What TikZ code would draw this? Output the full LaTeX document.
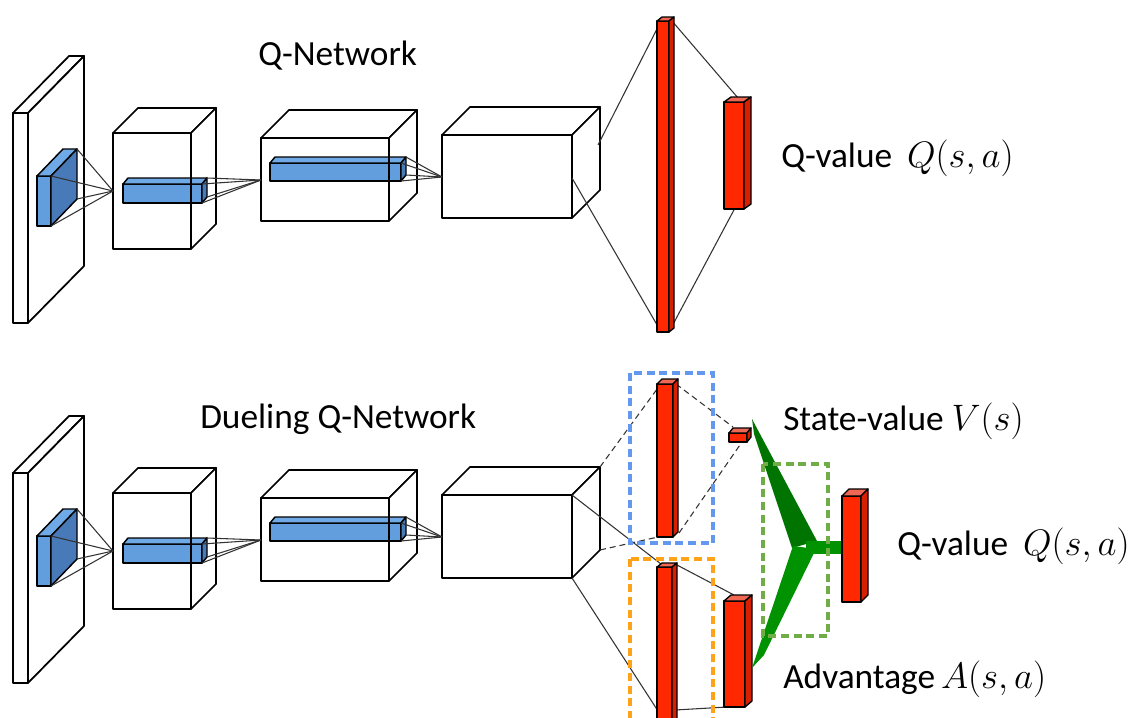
\documentclass[tikz,border=0pt]{standalone}
\usepackage{fontspec}
\setmainfont{Carlito}

\definecolor{qblue}{RGB}{98,157,222}
\definecolor{qbluetop}{RGB}{112,170,230}
\definecolor{qblueside}{RGB}{72,122,186}
\definecolor{qred}{RGB}{255,40,0}
\definecolor{qredtop}{RGB}{240,104,84}
\definecolor{qredside}{RGB}{214,32,0}
\definecolor{ydark}{RGB}{0,116,0}
\definecolor{ylight}{RGB}{0,146,0}
\definecolor{boxblue}{RGB}{100,152,238}
\definecolor{boxorange}{RGB}{255,162,24}
\definecolor{boxgreen}{RGB}{112,173,71}

\tikzset{
  edge/.style={draw=black, line width=1.3pt, line join=round},
  link/.style={draw=black!80, line width=0.8pt},
  dlink/.style={link, dash pattern=on 4.5pt off 3pt},
  plain front/.style={fill=white},
  plain top/.style={fill=white},
  plain side/.style={fill=white},
  blue front/.style={fill=qblue, line width=1.1pt},
  blue top/.style={fill=qbluetop, line width=1.1pt},
  blue side/.style={fill=qblueside, line width=1.1pt},
  red front/.style={fill=qred, line width=1pt},
  red top/.style={fill=qredtop, line width=1pt},
  red side/.style={fill=qredside, line width=1pt},
  groupbox/.style={line width=2.3pt, dash pattern=on 6pt off 3.5pt},
  label/.style={anchor=base west, inner sep=0pt, font=\fontsize{26.5}{31}\selectfont},
}

% math: largest fixed size of the math fonts, scaled up a little
\newcommand\mth[1]{{\fontsize{24.88}{30}\selectfont\scalebox{1.11}{$#1$}}}

% cuboid: name, x, y, width, height, depth dx, depth dy (upwards), kind
\newcommand\cuboid[8]{%
  \coordinate (#1-ftl) at (#2,#3);
  \coordinate (#1-ftr) at ({#2+#4},#3);
  \coordinate (#1-fbl) at (#2,{#3+#5});
  \coordinate (#1-fbr) at ({#2+#4},{#3+#5});
  \coordinate (#1-btl) at ({#2+#6},{#3-#7});
  \coordinate (#1-btr) at ({#2+#4+#6},{#3-#7});
  \coordinate (#1-bbr) at ({#2+#4+#6},{#3+#5-#7});
  \path[edge,#8 front] (#1-ftl) rectangle (#1-fbr);
  \path[edge,#8 top] (#1-ftl) -- (#1-btl) -- (#1-btr) -- (#1-ftr) -- cycle;
  \path[edge,#8 side] (#1-ftr) -- (#1-btr) -- (#1-bbr) -- (#1-fbr) -- cycle;
}

% convolutional trunk shared by both networks
\newcommand\trunk[1]{%
  \cuboid{#1in}{13}{113}{15}{210}{56}{57}{plain}
  \cuboid{#1k1}{37}{176}{14}{50}{26}{27}{blue}
  \cuboid{#1c2}{113}{133}{78}{116}{25}{25}{plain}
  \coordinate (#1a2) at (113,191);
  \foreach \p in {ftr,fbr,btr,bbr} {\draw[link] (#1k1-\p) -- (#1a2);}
  \cuboid{#1k2}{123}{184}{79}{19}{5}{6}{blue}
  \draw[edge] (#1c2-ftr) -- (#1c2-fbr);
  \cuboid{#1c3}{261}{138}{128}{83}{28}{28}{plain}
  \coordinate (#1a3) at (261,180);
  \foreach \p in {ftr,fbr,btr,bbr} {\draw[link] (#1k2-\p) -- (#1a3);}
  \cuboid{#1k3}{270}{163}{131}{18}{5}{6}{blue}
  \draw[edge] (#1c3-ftr) -- (#1c3-fbr);
  \cuboid{#1c4}{442}{135}{130}{83}{28}{28}{plain}
  \coordinate (#1a4) at (442,177);
  \foreach \p in {ftr,fbr,btr,bbr} {\draw[link] (#1k3-\p) -- (#1a4);}
}

\begin{document}
\begin{tikzpicture}[x=0.75pt,y=-0.75pt]
\useasboundingbox (0,0) rectangle (1133,718);
\clip (0,0) rectangle (1133,718);

% ---------------- Q-Network ----------------
\begin{scope}
  \trunk{t}
\end{scope}
\node[label] (tname) at (258,65) {Q-Network};

\coordinate (tfrom1) at (598,145);
\coordinate (tfrom2) at (572,178);
\coordinate (tbar1top) at (661,21);
\coordinate (tbar1bot) at (660,330);
\coordinate (tbar1topr) at (672,21);
\coordinate (tbar1botr) at (670,330);
\coordinate (tbar2top) at (738,98);
\coordinate (tbar2bot) at (735,208);
\draw[link] (tfrom1) -- (tbar1top);
\draw[link] (tfrom2) -- (tbar1bot);
\draw[link] (tbar1topr) -- (tbar2top);
\draw[link] (tbar1botr) -- (tbar2bot);
\cuboid{tr1}{657}{21}{12}{311}{5}{4}{red}
\cuboid{tr2}{724}{102}{20}{107}{7}{5}{red}
\node[label] (tq) at (781,167) {Q-value\hspace{0.42em}\mth{Q(s,a)}};

% ---------------- Dueling Q-Network ----------------
\begin{scope}[shift={(0,360)}]
  \trunk{b}
\end{scope}
\node[label] (bname) at (200,428) {Dueling Q-Network};

\coordinate (va) at (663,381);
\coordinate (vb) at (658,537);
\coordinate (vc) at (676,384);
\coordinate (vd) at (679,533);
\coordinate (ve) at (733,427);
\coordinate (vf) at (742,442);
\coordinate (aa) at (661,564);
\coordinate (ab) at (658,711);
\coordinate (ac) at (677,565);
\coordinate (ad) at (734,595);
\coordinate (ae) at (744,706);

\draw[dlink] (bc4-btr) -- (va);
\draw[dlink] (bc4-bbr) -- (vb);
\draw[dlink] (vc) -- (ve);
\draw[dlink] (vd) -- (vf);
\draw[link] (bc4-ftr) -- (aa);
\draw[link] (bc4-fbr) -- (ab);
\draw[link] (ac) -- (ad);
\draw[link] (ab) -- (ae);

\cuboid{bv1}{657}{384}{16}{153}{5}{5}{red}
\cuboid{bv2}{729}{433}{18}{9}{4}{5}{red}
\cuboid{ba1}{657}{567}{15}{160}{5}{4}{red}
\cuboid{ba2}{724}{601}{21}{106}{7}{6}{red}

% stream groups
\draw[groupbox, boxblue] (630,373) rectangle (713,543);
\draw[groupbox, boxorange] (630,559) rectangle (713,740);

% aggregation of the two streams
\fill[ydark] (752,419) -- (754,434) -- (792,548) -- (817,541) -- cycle;
\fill[ylight] (806,541) rectangle (843,554);
\fill[ylight] (793,546) -- (816,549) -- (764,655) -- (752,668) -- cycle;
\draw[groupbox, boxgreen] (763,464) rectangle (828,636);

\cuboid{bq}{842}{496}{19}{106}{7}{7}{red}

\node[label] (bv) at (783,430) {State-value \mth{V(s)}};
\node[label] (bqv) at (897,555) {Q-value\hspace{0.42em}\mth{Q(s,a)}};
\node[label] (badv) at (783,688) {Advantage\,\mth{A(s,a)}};
\end{tikzpicture}
\end{document}
